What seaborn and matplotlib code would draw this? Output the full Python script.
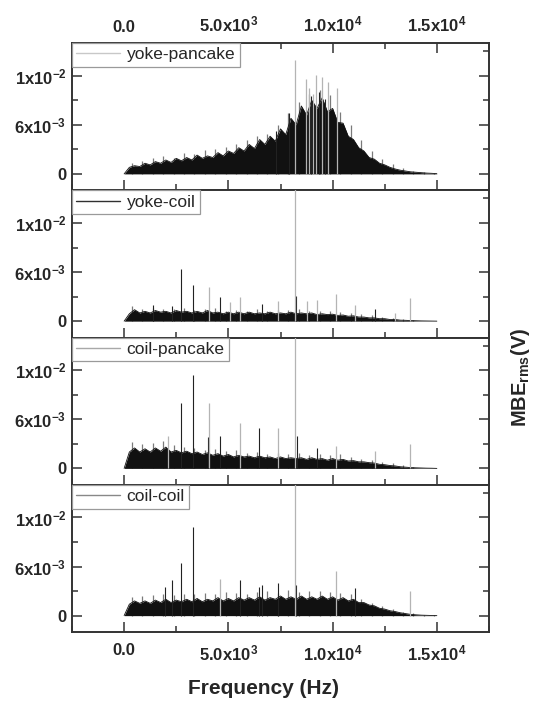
import numpy as np
import matplotlib
matplotlib.use("Agg")
import matplotlib.pyplot as plt
from matplotlib.ticker import MultipleLocator, FixedLocator
import seaborn as sns

sns.set_style("ticks")
plt.rcParams['font.family'] = ['Liberation Sans', 'DejaVu Sans']
plt.rcParams['mathtext.fontset'] = 'custom'
plt.rcParams['mathtext.rm'] = 'Liberation Sans:bold'
plt.rcParams['mathtext.default'] = 'regular'

# frequency grid of the noise envelope (Hz)
freq = np.arange(0, 15001, 250)
# frequencies of the grey "hairs" sticking out of the noise band (Hz)
hair_freq = np.arange(375, 15000, 500)

# upper edge of the black noise band, in units of 1e-3 V
yoke_pancake_env = [0.0, 0.8, 1.0, 0.9, 1.3, 1.1, 1.5, 1.3, 1.7, 1.4, 1.9, 1.6, 2.0, 1.7, 2.3, 1.9,
                    2.2, 2.0, 2.6, 2.2, 2.8, 2.5, 3.2, 2.8, 3.6, 3.1, 4.2, 3.6, 4.6, 4.0, 5.5, 4.8,
                    6.8, 6.0, 8.3, 7.2, 9.0, 8.0, 9.3, 7.6, 8.0, 6.3, 6.2, 4.6, 4.2, 3.2, 2.8, 2.0,
                    1.8, 1.3, 1.1, 0.8, 0.6, 0.45, 0.35, 0.25, 0.2, 0.15, 0.1, 0.07, 0.03]
yoke_coil_env = [0.0, 0.9, 1.4, 1.0, 1.2, 1.0, 1.3, 1.1, 1.2, 1.0, 1.3, 1.1, 1.2, 1.0, 1.2, 1.0,
                 1.3, 1.0, 1.1, 0.9, 1.1, 0.9, 1.1, 0.9, 1.1, 0.9, 1.0, 0.9, 1.1, 0.9, 1.0, 0.9,
                 1.1, 0.9, 1.0, 0.9, 1.0, 0.8, 0.9, 0.8, 0.85, 0.7, 0.75, 0.6, 0.65, 0.5, 0.5, 0.4,
                 0.4, 0.3, 0.3, 0.2, 0.2, 0.12, 0.1, 0.07, 0.05, 0.03, 0.02, 0.01, 0.0]
coil_pancake_env = [0.0, 2.0, 2.5, 2.0, 2.4, 2.0, 2.5, 2.1, 2.6, 2.0, 2.2, 1.9, 2.1, 1.8, 2.0, 1.7,
                    1.9, 1.6, 1.8, 1.5, 1.7, 1.4, 1.6, 1.4, 1.5, 1.3, 1.5, 1.3, 1.4, 1.2, 1.4, 1.2,
                    1.3, 1.2, 1.3, 1.1, 1.3, 1.1, 1.2, 1.0, 1.2, 1.0, 1.1, 0.9, 0.95, 0.8, 0.8, 0.7,
                    0.65, 0.5, 0.45, 0.35, 0.3, 0.2, 0.15, 0.1, 0.07, 0.05, 0.03, 0.02, 0.0]
coil_coil_env = [0.0, 1.4, 1.8, 1.5, 1.8, 1.5, 1.9, 1.6, 2.0, 1.6, 1.9, 1.7, 2.0, 1.7, 2.1, 1.7,
                 2.0, 1.8, 2.2, 1.8, 2.1, 1.8, 2.2, 1.9, 2.2, 1.9, 2.3, 1.9, 2.2, 2.0, 2.4, 2.0,
                 2.3, 2.0, 2.4, 2.0, 2.3, 2.0, 2.4, 2.0, 2.3, 1.9, 2.2, 1.8, 2.0, 1.6, 1.6, 1.3,
                 1.2, 0.9, 0.8, 0.6, 0.5, 0.35, 0.25, 0.15, 0.1, 0.06, 0.04, 0.02, 0.0]

# tops of the grey hairs, in units of 1e-3 V
yoke_pancake_hair = [1.3, 1.6, 1.9, 2.2, 2.0, 2.6, 2.4, 2.9, 3.0, 3.3, 3.6, 4.2, 4.6, 4.9, 6.0,
                     7.4, 8.8, 9.8, 10.2, 9.6, 7.6, 6.0, 4.2, 2.8, 1.8, 1.2, 0.7, 0.4, 0.2, 0.1]
yoke_coil_hair = [1.8, 1.5, 1.6, 1.5, 1.5, 1.6, 1.4, 1.5, 1.6, 1.3, 1.4, 1.3, 1.5, 1.3, 1.4,
                  1.4, 1.5, 1.3, 1.3, 1.2, 1.1, 1.0, 0.9, 0.7, 0.5, 0.4, 0.3, 0.15, 0.05, 0.02]
coil_pancake_hair = [3.2, 3.0, 3.1, 3.3, 2.8, 2.6, 2.5, 2.3, 2.4, 2.1, 2.2, 1.9, 2.0, 1.8, 1.9,
                     1.7, 1.9, 1.6, 1.8, 1.6, 1.7, 1.4, 1.2, 1.0, 0.8, 0.6, 0.4, 0.2, 0.1, 0.03]
coil_coil_hair = [2.3, 2.4, 2.5, 2.6, 2.5, 2.7, 2.6, 2.8, 2.7, 2.9, 2.8, 2.7, 2.9, 3.0, 2.8,
                  3.1, 2.9, 3.0, 3.0, 2.9, 2.8, 2.6, 2.0, 1.6, 1.2, 0.8, 0.5, 0.3, 0.1, 0.03]

# isolated spectral lines (Hz, V)
yp_dark_f = [7300, 7900, 8950, 9350, 9650]
yp_dark_h = [0.0052, 0.0075, 0.0095, 0.0100, 0.0092]
yp_grey_f = [8200, 8700, 8850, 9050, 9200, 9500, 9800, 10200]
yp_grey_h = [0.0139, 0.0116, 0.0105, 0.0098, 0.0121, 0.0118, 0.0112, 0.0105]

yc_dark_f = [1370, 2280, 2720, 3290, 4610, 6590, 8250, 12010]
yc_dark_h = [0.0020, 0.0019, 0.0064, 0.0044, 0.0029, 0.0021, 0.0031, 0.0015]
yc_grey_f = [8200, 4070, 5090, 5535, 7390, 8790, 9230, 10170, 11080, 12970, 13710]
yc_grey_h = [0.0200, 0.0042, 0.0024, 0.0029, 0.0025, 0.0025, 0.0026, 0.0033, 0.0020, 0.0010, 0.0028]

cp_dark_f = [2720, 3290, 4040, 4610, 6450, 8300, 9230]
cp_dark_h = [0.0080, 0.0114, 0.0038, 0.0040, 0.0049, 0.0040, 0.0025]
cp_grey_f = [8200, 2120, 4070, 5535, 7390, 10140, 12010, 13710]
cp_grey_h = [0.0200, 0.0040, 0.0080, 0.0055, 0.0049, 0.0027, 0.0021, 0.0030]

cc_dark_f = [1965, 2280, 2720, 3290, 5535, 6450, 6590, 7390, 8250, 11080]
cc_dark_h = [0.0035, 0.0043, 0.0064, 0.0108, 0.0044, 0.0035, 0.0037, 0.0040, 0.0038, 0.0034]
cc_grey_f = [8200, 4620, 10170, 13710]
cc_grey_h = [0.0200, 0.0045, 0.0054, 0.0030]

labels = ['yoke-pancake', 'yoke-coil', 'coil-pancake', 'coil-coil']
envs = [yoke_pancake_env, yoke_coil_env, coil_pancake_env, coil_coil_env]
hairs = [yoke_pancake_hair, yoke_coil_hair, coil_pancake_hair, coil_coil_hair]
dark = [(yp_dark_f, yp_dark_h), (yc_dark_f, yc_dark_h), (cp_dark_f, cp_dark_h), (cc_dark_f, cc_dark_h)]
grey = [(yp_grey_f, yp_grey_h), (yc_grey_f, yc_grey_h), (cp_grey_f, cp_grey_h), (cc_grey_f, cc_grey_h)]
legend_colors = ['#c8c8c8', '#303030', '#a8a8a8', '#888888']

fig = plt.figure(figsize=(5.34, 7.01), dpi=100)
left, width = 72 / 534, 417 / 534
top_px, h_px = 43, 147.25

xticklabels = ['0.0', '5.0x10$^{3}$', '1.0x10$^{4}$', '1.5x10$^{4}$']
yticklabels = ['0', '6x10$^{-3}$', '1x10$^{-2}$']
tick_fs = 12

for i in range(4):
    bottom = 1 - (top_px + (i + 1) * h_px) / 701
    ax = fig.add_axes([left, bottom, width, h_px / 701])
    env = np.array(envs[i]) * 1e-3
    ax.vlines(hair_freq, 0, np.array(hairs[i]) * 1e-3, color='#7a7a7a', lw=0.9, zorder=1)
    ax.fill_between(freq, 0, env, color='#111111', lw=0, zorder=2)
    sns.lineplot(x=freq, y=env, ax=ax, color='#111111', lw=0.6, zorder=3)
    ax.vlines(dark[i][0], 0, dark[i][1], color='#222222', lw=0.8, zorder=4)
    ax.vlines(grey[i][0], 0, grey[i][1], color='#b4b4b4', lw=0.9, zorder=4)
    ax.plot([], [], color=legend_colors[i], lw=1.0, label=labels[i])

    ax.set_xlim(-2500, 17500)
    ax.set_ylim(-0.002, 0.016)
    ax.xaxis.set_major_locator(FixedLocator([0, 5000, 10000, 15000]))
    ax.xaxis.set_minor_locator(MultipleLocator(2500))
    ax.yaxis.set_major_locator(FixedLocator([0, 0.006, 0.012]))
    ax.yaxis.set_minor_locator(FixedLocator([0.003, 0.009, 0.015]))
    ax.set_yticklabels(yticklabels, fontweight='bold', fontsize=tick_fs)
    ax.tick_params(axis='both', which='major', direction='in', length=7, width=1.1,
                   color='#333333', right=True, top=(i == 0))
    ax.tick_params(axis='both', which='minor', direction='in', length=4, width=1.1,
                   color='#333333', right=True, top=(i == 0))
    ax.tick_params(axis='y', pad=4)
    if i == 0:
        ax.tick_params(axis='x', labeltop=True, labelbottom=False, pad=6)
        ax.set_xticklabels(xticklabels, fontweight='bold', fontsize=tick_fs)
    elif i == 3:
        ax.tick_params(axis='x', pad=8)
        ax.set_xticklabels(xticklabels, fontweight='bold', fontsize=tick_fs)
    else:
        ax.tick_params(axis='x', labelbottom=False)
    for s in ax.spines.values():
        s.set_linewidth(1.4)
        s.set_color('#333333')
    ax.set_xlabel('')
    ax.set_ylabel('')
    leg = ax.legend(loc='upper left', borderaxespad=0, fontsize=12.5, frameon=True,
                    fancybox=False, handlelength=2.5, borderpad=0.25, handletextpad=0.4)
    leg.get_frame().set_edgecolor('#9a9a9a')
    leg.get_frame().set_linewidth(0.9)
    leg.get_frame().set_alpha(1)

fig.text(0.493, 0.004, 'Frequency (Hz)', ha='center', va='bottom', fontsize=15, fontweight='bold')
fig.text(0.975, 0.461, 'MBE$_{rms}$(V)', ha='center', va='center', rotation=90,
         fontsize=14.5, fontweight='bold')

fig.savefig('out.png', dpi=100)
